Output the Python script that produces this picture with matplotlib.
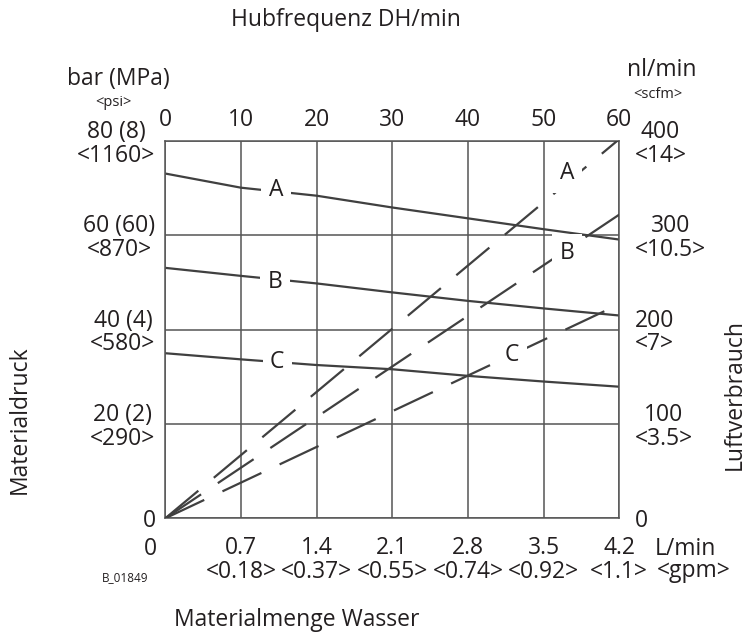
import numpy as np
from matplotlib import pyplot as plt

plt.rcParams['font.family'] = ['Open Sans', 'DejaVu Sans']
plt.rcParams['lines.scale_dashes'] = False

# Hubfrequenz (DH/min) - x-Achse
stroke_rate = [0, 10, 20, 30, 40, 50, 60]
# Materialdruck in bar, Kurven A/B/C
pressure_A = [73.1, 70.1, 68.4, 65.9, 63.6, 61.3, 59.1]
pressure_B = [53.1, 51.4, 49.8, 47.9, 46.1, 44.5, 43.0]
pressure_C = [35.0, 33.7, 32.5, 31.6, 30.2, 29.0, 27.9]

# Luftverbrauch in nl/min, Geraden A/B/C
air_x = [0, 60]
air_A = [0, 402]
air_B = [0, 322]
air_C = [0, 227]

# Achsbeschriftungen
top_ticks = [0, 10, 20, 30, 40, 50, 60]
bottom_labels = ["", "0.7\n<0.18>", "1.4\n<0.37>", "2.1\n<0.55>",
                 "2.8\n<0.74>", "3.5\n<0.92>", "4.2\n<1.1>"]
left_ticks = [0, 20, 40, 60, 80]
left_labels = ["0", "20 (2)\n<290>", "40 (4)\n<580>", "60 (60)\n<870>", "80 (8)\n<1160>"]
right_ticks = [0, 100, 200, 300, 400]
right_labels = ["0", "100\n<3.5>", "200\n<7>", "300\n<10.5>", "400\n<14>"]

W, H = 749, 636
grid_c = '#555555'
line_c = '#404040'
txt_c = '#231f20'
fs = 16.5
ls = 0.98

fig = plt.figure(figsize=(W / 100, H / 100), dpi=100)
ax = fig.add_axes([165.3 / W, 1 - 518.3 / H, 454 / W, 377.3 / H])
ax.set_xlim(0, 60)
ax.set_ylim(0, 80)
ax.set_xticks(top_ticks)
ax.set_xticklabels(bottom_labels, fontsize=fs, color=txt_c, linespacing=ls)
ax.set_yticks(left_ticks)
ax.set_yticklabels(left_labels, fontsize=fs, color=txt_c, linespacing=ls,
                   multialignment='center')
ax.tick_params(axis='x', length=0, pad=13)
ax.tick_params(axis='y', length=0, pad=7)
ax.grid(True, color=grid_c, linewidth=1.1)
for sp in ax.spines.values():
    sp.set_color(grid_c)
    sp.set_linewidth(1.1)

top = ax.secondary_xaxis('top')
top.set_xticks(top_ticks)
top.set_xticklabels([str(t) for t in top_ticks], fontsize=fs, color=txt_c)
top.tick_params(length=0, pad=6.5)
top.spines['top'].set_visible(False)

ax2 = ax.twinx()
ax2.set_ylim(0, 400)
ax2.set_yticks(right_ticks)
ax2.set_yticklabels(right_labels, fontsize=fs, color=txt_c, linespacing=ls,
                    multialignment='center')
ax2.tick_params(axis='y', length=0, pad=11)
for sp in ax2.spines.values():
    sp.set_visible(False)

# Materialdruck (durchgezogen)
for p in (pressure_A, pressure_B, pressure_C):
    ax.plot(stroke_rate, p, color=line_c, linewidth=1.6, solid_capstyle='butt')

# Luftverbrauch (gestrichelt)
for a in (air_A, air_B, air_C):
    ax2.plot(air_x, a, color=line_c, linewidth=1.6, dashes=(31, 14.5),
             dash_capstyle='butt')

box = dict(facecolor='white', edgecolor='none', pad=5.5)
for x, y, s in [(14.6, 69.6, 'A'), (14.5, 50.2, 'B'), (14.8, 33.1, 'C')]:
    ax2.text(x, y, s, transform=ax.transData, fontsize=fs, color=txt_c,
             ha='center', va='center', bbox=box, zorder=5)
for x, y, s in [(53.1, 366, 'A'), (53.1, 281, 'B'), (45.8, 173, 'C')]:
    ax2.text(x, y, s, fontsize=fs, color=txt_c, ha='center', va='center',
             bbox=box, zorder=5)


def ftext(x, y, s, **kw):
    kw.setdefault('fontsize', fs)
    kw.setdefault('color', txt_c)
    fig.text(x / W, 1 - y / H, s, **kw)


ftext(346, 20, "Hubfrequenz DH/min", ha='center', va='center')
ftext(118, 79, "bar (MPa)", ha='center', va='center')
ftext(113, 102, "<psi>", ha='center', va='center', fontsize=10.5)
ftext(662, 70, "nl/min", ha='center', va='center')
ftext(658, 94, "<scfm>", ha='center', va='center', fontsize=10.5)
ftext(150, 549, "0", ha='center', va='center')
ftext(685, 549, "L/min", ha='center', va='center')
ftext(694, 571, "<gpm>", ha='center', va='center')
ftext(125, 578, "B_01849", ha='center', va='center', fontsize=8.5)
ftext(297, 620, "Materialmenge Wasser", ha='center', va='center')
ftext(20, 420, "Materialdruck", ha='center', va='center', rotation=90)
ftext(735, 395, "Luftverbrauch", ha='center', va='center', rotation=90)

fig.savefig('out.png', dpi=100)
